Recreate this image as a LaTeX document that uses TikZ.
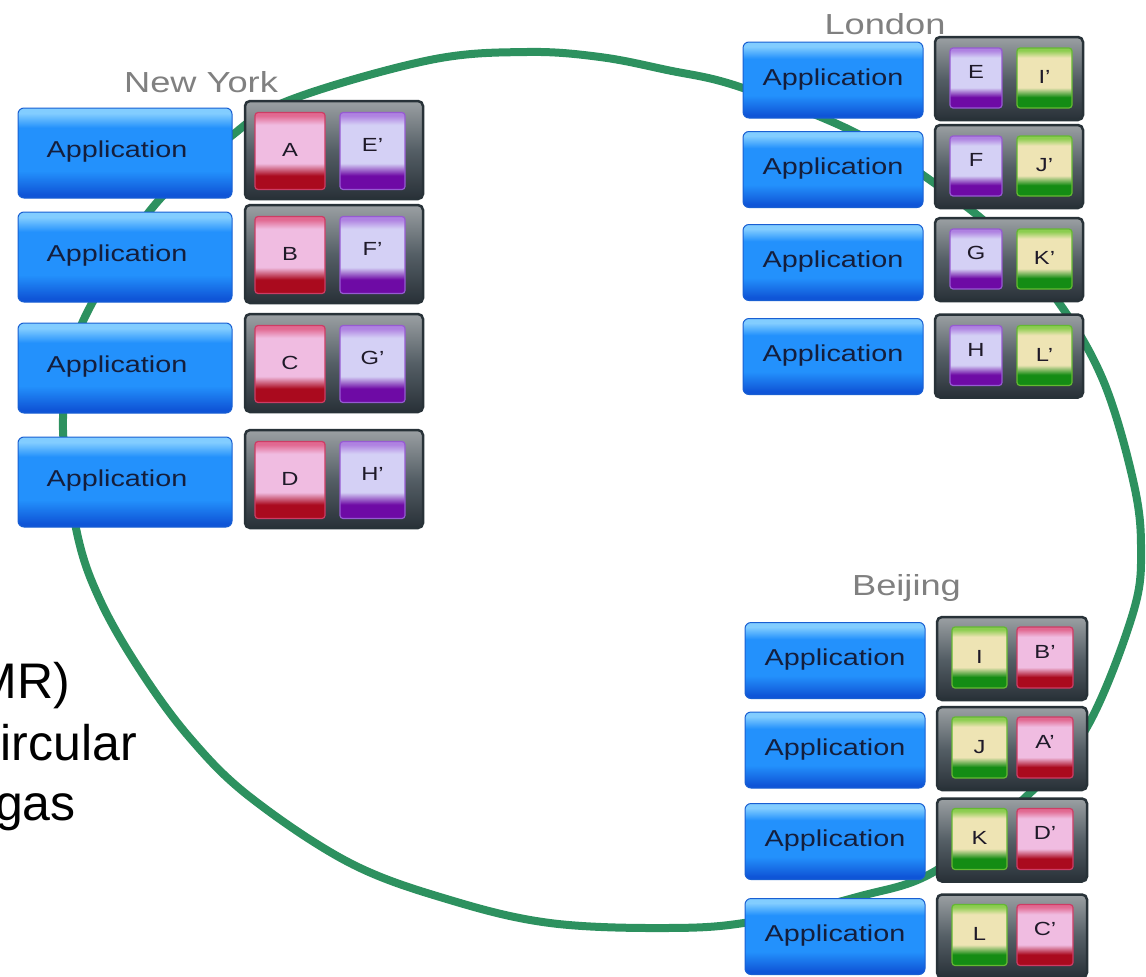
\documentclass[tikz,border=0pt]{standalone}
\usepackage{fontspec}
\setmainfont{Liberation Sans}
\newfontfamily\diagfont[FakeStretch=1.25]{Liberation Sans}
\usetikzlibrary{shadings}

\definecolor{ringgreen}{RGB}{45,145,95}
\definecolor{apptop}{RGB}{130,205,255}
\definecolor{appmid}{RGB}{35,145,252}
\definecolor{appbot}{RGB}{15,85,215}
\definecolor{appbord}{RGB}{25,95,210}
\definecolor{apptext}{RGB}{20,30,60}
\definecolor{sttop}{RGB}{155,160,163}
\definecolor{stmid}{RGB}{85,95,102}
\definecolor{stbot}{RGB}{40,48,55}
\definecolor{stbord}{RGB}{40,50,56}
\definecolor{rtop}{RGB}{225,105,145}
\definecolor{rlight}{RGB}{240,188,225}
\definecolor{rdark}{RGB}{170,10,30}
\definecolor{rbord}{RGB}{205,60,100}
\definecolor{ptop}{RGB}{175,130,225}
\definecolor{plight}{RGB}{212,208,245}
\definecolor{pdark}{RGB}{110,10,165}
\definecolor{pbord}{RGB}{150,90,210}
\definecolor{gtop}{RGB}{140,205,80}
\definecolor{glight}{RGB}{238,228,180}
\definecolor{gdark}{RGB}{20,140,20}
\definecolor{gbord}{RGB}{100,185,50}
\definecolor{citygray}{RGB}{128,128,128}
\definecolor{lettertext}{RGB}{30,25,40}

\pgfdeclareverticalshading{appshade}{100bp}{color(0bp)=(appbot); color(27bp)=(appbot); color(40bp)=(appmid); color(64bp)=(appmid); color(72bp)=(apptop); color(100bp)=(apptop)}
\pgfdeclareverticalshading{stshade}{100bp}{color(0bp)=(stbot); color(25bp)=(stbot); color(50bp)=(stmid); color(75bp)=(sttop); color(100bp)=(sttop)}
\pgfdeclareverticalshading{redshade}{100bp}{color(0bp)=(rdark); color(34bp)=(rdark); color(42bp)=(rlight); color(67bp)=(rlight); color(73bp)=(rtop); color(100bp)=(rtop)}
\pgfdeclareverticalshading{purpleshade}{100bp}{color(0bp)=(pdark); color(34bp)=(pdark); color(42bp)=(plight); color(67bp)=(plight); color(73bp)=(ptop); color(100bp)=(ptop)}
\pgfdeclareverticalshading{greenshade}{100bp}{color(0bp)=(gdark); color(34bp)=(gdark); color(42bp)=(glight); color(67bp)=(glight); color(73bp)=(gtop); color(100bp)=(gtop)}

\tikzset{
  ring/.style={draw=ringgreen, line width=8pt},
  appbox/.style={shade, shading=appshade, draw=appbord, line width=1pt, rounded corners=6pt,
    minimum width=180pt, minimum height=76pt, inner sep=0pt, text=apptext,
    font=\diagfont\fontsize{23}{23}\selectfont},
  nyapp/.style={appbox, minimum width=214pt, minimum height=90pt},
  storebox/.style={shade, shading=stshade, draw=stbord, line width=2.5pt, rounded corners=5pt,
    minimum width=148pt, minimum height=83pt, inner sep=0pt},
  nystore/.style={storebox, minimum width=178pt, minimum height=98pt},
  bjstore/.style={storebox, minimum width=150pt},
  blk/.style={line width=1.2pt, rounded corners=3pt, inner sep=0pt, text height=13pt,
    text depth=0pt, text=lettertext, font=\diagfont\fontsize{19}{19}\selectfont},
  redblk/.style={blk, shade, shading=redshade, draw=rbord},
  purpleblk/.style={blk, shade, shading=purpleshade, draw=pbord},
  greenblk/.style={blk, shade, shading=greenshade, draw=gbord},
  city/.style={text=citygray, inner sep=0pt, font=\diagfont\fontsize{29}{29}\selectfont},
  slidetext/.style={inner sep=0pt, text=black, font=\fontsize{50}{50}\selectfont}
}
\newcommand\apptxt{\raisebox{6.5pt}{Application}}
\newcommand\nyapptxt{\hspace*{-16pt}\raisebox{7pt}{Application}}
\newcommand\prim[1]{\raisebox{1pt}{#1}}
\newcommand\repl[1]{\raisebox{6pt}{#1}}

\begin{document}
\begin{tikzpicture}[x=1pt, y=-1pt]
\useasboundingbox (0,0) rectangle (1146,977);
\clip (0,0) rectangle (1146,977);

% ring
\draw[ring] plot[smooth cycle, tension=0.6] coordinates {
 (527,52) (600,57) (667,70) (737,86) (850,130) (930,180) (1000,235) (1057,300)
 (1103,380) (1133,480) (1141,547) (1133,613) (1087,727) (1030,793) (937,870)
 (857,897) (750,922) (667,928) (550,923) (450,900) (350,863) (250,797) (190,738)
 (140,670) (100,600) (77,533) (63,430) (72,360) (90,307) (153,207) (230,137) (290,100) (430,60)};

% slide text (cut off at the left edge)
\node[slidetext, anchor=base east] (t1) at (70,698) {MR)};
\node[slidetext, anchor=base east] (t2) at (137,760) {ircular};
\node[slidetext, anchor=base east] (t3) at (76,820) {gas};

% city labels
\node[city] (ny) at (201,82) {New York};
\node[city] (ldn) at (885,24) {London};
\node[city, anchor=base] (bj) at (906.5,595) {Beijing};

% New York
\node[nyapp] (nya1) at (125,153) {\nyapptxt};
\node[nyapp] (nya2) at (125,257) {\nyapptxt};
\node[nyapp] (nya3) at (125,368) {\nyapptxt};
\node[nyapp] (nya4) at (125,482) {\nyapptxt};
\node[nystore] (nys1) at (334,150) {};
\node[nystore] (nys2) at (334,254) {};
\node[nystore] (nys3) at (334,363) {};
\node[nystore] (nys4) at (334,479) {};
\node[redblk, minimum width=70pt, minimum height=77pt] (bA) at (290,151) {\prim{A}};
\node[redblk, minimum width=70pt, minimum height=77pt] (bB) at (290,255) {\prim{B}};
\node[redblk, minimum width=70pt, minimum height=77pt] (bC) at (290,364) {\prim{C}};
\node[redblk, minimum width=70pt, minimum height=77pt] (bD) at (290,480) {\prim{D}};
\node[purpleblk, minimum width=65pt, minimum height=77pt] (rE) at (372.5,151) {\repl{E’}};
\node[purpleblk, minimum width=65pt, minimum height=77pt] (rF) at (372.5,255) {\repl{F’}};
\node[purpleblk, minimum width=65pt, minimum height=77pt] (rG) at (372.5,364) {\repl{G’}};
\node[purpleblk, minimum width=65pt, minimum height=77pt] (rH) at (372.5,480) {\repl{H’}};

% London
\node[appbox] (lda1) at (833,80) {\apptxt};
\node[appbox] (lda2) at (833,169.5) {\apptxt};
\node[appbox] (lda3) at (833,262.5) {\apptxt};
\node[appbox] (lda4) at (833,356.5) {\apptxt};
\node[storebox] (lds1) at (1009,78.5) {};
\node[storebox] (lds2) at (1009,166.5) {};
\node[storebox] (lds3) at (1009,259.5) {};
\node[storebox] (lds4) at (1009,356) {};
\node[purpleblk, minimum width=52pt, minimum height=60pt] (bE) at (976,78) {\repl{E}};
\node[purpleblk, minimum width=52pt, minimum height=60pt] (bF) at (976,166) {\repl{F}};
\node[purpleblk, minimum width=52pt, minimum height=60pt] (bG) at (976,259) {\repl{G}};
\node[purpleblk, minimum width=52pt, minimum height=60pt] (bH) at (976,355.5) {\repl{H}};
\node[greenblk, minimum width=55pt, minimum height=60pt] (rI) at (1044.5,78) {\prim{I’}};
\node[greenblk, minimum width=55pt, minimum height=60pt] (rJ) at (1044.5,166) {\prim{J’}};
\node[greenblk, minimum width=55pt, minimum height=60pt] (rK) at (1044.5,259) {\prim{K’}};
\node[greenblk, minimum width=55pt, minimum height=60pt] (rL) at (1044.5,355.5) {\prim{L’}};

% Beijing
\node[appbox] (bja1) at (835,660.5) {\apptxt};
\node[appbox] (bja2) at (835,750) {\apptxt};
\node[appbox] (bja3) at (835,841.5) {\apptxt};
\node[appbox] (bja4) at (835,936.5) {\apptxt};
\node[bjstore] (bjs1) at (1012,658.5) {};
\node[bjstore] (bjs2) at (1012,748.5) {};
\node[bjstore] (bjs3) at (1012,840) {};
\node[bjstore] (bjs4) at (1012,936) {};
\node[greenblk, minimum width=55pt, minimum height=61pt] (bI) at (979.5,657.5) {\prim{I}};
\node[greenblk, minimum width=55pt, minimum height=61pt] (bJ) at (979.5,747.5) {\prim{J}};
\node[greenblk, minimum width=55pt, minimum height=61pt] (bK) at (979.5,839) {\prim{K}};
\node[greenblk, minimum width=55pt, minimum height=61pt] (bL) at (979.5,935) {\prim{L}};
\node[redblk, minimum width=56pt, minimum height=61pt] (rB) at (1045,657.5) {\repl{B’}};
\node[redblk, minimum width=56pt, minimum height=61pt] (rA) at (1045,747.5) {\repl{A’}};
\node[redblk, minimum width=56pt, minimum height=61pt] (rD) at (1045,839) {\repl{D’}};
\node[redblk, minimum width=56pt, minimum height=61pt] (rC) at (1045,935) {\repl{C’}};
\end{tikzpicture}
\end{document}
